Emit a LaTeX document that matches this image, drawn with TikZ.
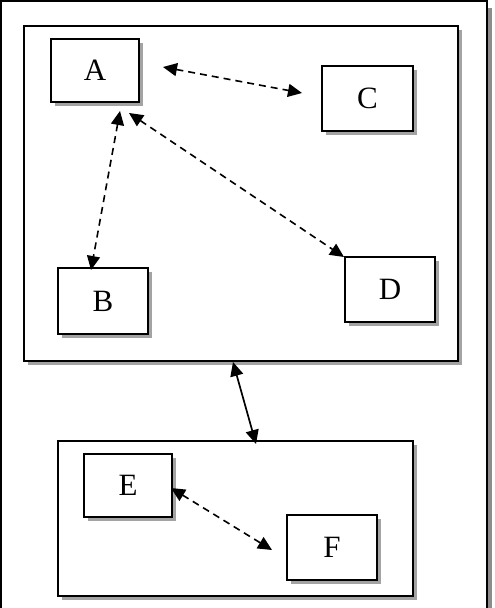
\documentclass[tikz,border=0pt]{standalone}
\usepackage{fontspec}
\setmainfont{Liberation Serif}
\usetikzlibrary{shadows,arrows.meta}
\begin{document}
\begin{tikzpicture}[x=1pt,y=-1pt,
  shd/.style={drop shadow={shadow xshift=4pt,shadow yshift=-4pt,fill=black!45,opacity=0.8}},
  box/.style={draw=black,line width=1.8pt,fill=white,shd,minimum width=88pt,minimum height=63pt,inner sep=0pt,font=\fontsize{31}{31}\selectfont},
  frame/.style={draw=black,line width=2pt,fill=white,shd,inner sep=0pt},
  tip/.style={Triangle[length=14pt,width=13pt]},
  link/.style={line width=1.6pt,dash pattern=on 7pt off 5pt,{Triangle[length=14pt,width=13pt]}-{Triangle[length=14pt,width=13pt]}},
  solidlink/.style={line width=1.7pt,{Triangle[length=14pt,width=13pt]}-{Triangle[length=14pt,width=13pt]}}]
\useasboundingbox (0,0) rectangle (495,608);
% outer frame
\fill[black!45] (488,8) rectangle (492,612);
\draw[line width=2.5pt,fill=white] (1,1) rectangle (487,612);
% top frame
\node[frame,minimum width=434pt,minimum height=335pt] (top) at (241,193.5) {};
% bottom frame
\node[frame,minimum width=355pt,minimum height=155pt] (bot) at (235.5,518.5) {};
% boxes
\node[box] (A) at (95,70.5) {A};
\node[box,minimum width=91pt,minimum height=65pt] (C) at (367.5,98.5) {C};
\node[box,minimum width=90pt,minimum height=66pt] (B) at (103,301) {B};
\node[box,minimum width=90pt,minimum height=65pt] (D) at (390,289.5) {D};
\node[box,minimum width=88pt,minimum height=63pt] (E) at (128,485.5) {E};
\node[box,minimum width=90pt,minimum height=65pt] (F) at (332,547.5) {F};
% connectors
\coordinate (a1) at (163,67);
\coordinate (c1) at (302,93);
\draw[link] (a1) -- (c1);
\coordinate (a2) at (120,111);
\coordinate (b1) at (91,270);
\draw[link] (a2) -- (b1);
\coordinate (a3) at (129,113);
\coordinate (d1) at (344,257);
\draw[link] (a3) -- (d1);
\coordinate (t1) at (233,362);
\coordinate (b2) at (256,444);
\draw[solidlink] (t1) -- (b2);
\coordinate (e1) at (171,488);
\coordinate (f1) at (272,550);
\draw[link] (e1) -- (f1);
\end{tikzpicture}
\end{document}
